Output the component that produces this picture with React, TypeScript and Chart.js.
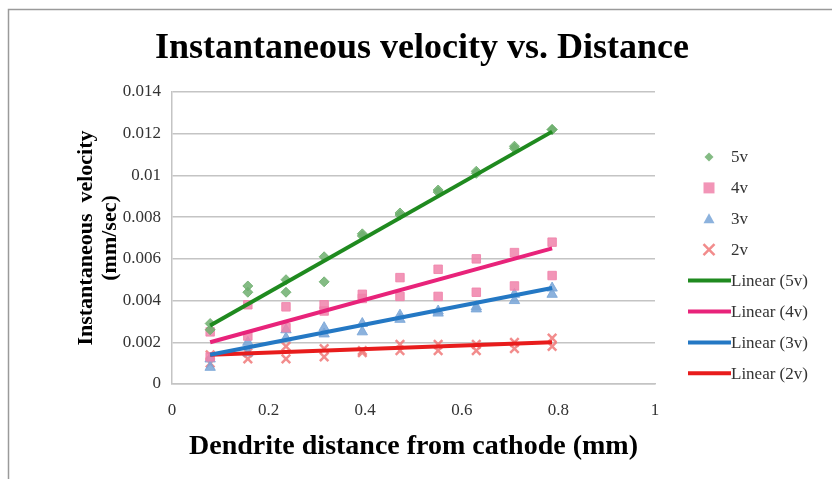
import React, { useEffect, useRef } from "react";
import { Chart, registerables } from "chart.js";

Chart.register(...registerables);

// ---- data ----
const distances = [0.079, 0.157, 0.236, 0.315, 0.394, 0.472, 0.551, 0.63, 0.709, 0.787];

const v5a = [0.0029, 0.0047, 0.005, 0.0061, 0.0072, 0.0082, 0.0093, 0.0102, 0.0114, 0.0122];
const v5b = [0.0026, 0.0044, 0.0044, 0.0049, 0.0071, 0.0081, 0.0092, 0.0101, 0.0113, 0.0122];
const v4a = [0.0025, 0.0038, 0.0037, 0.0038, 0.0043, 0.0051, 0.0055, 0.006, 0.0063, 0.0068];
const v4b = [0.0013, 0.0023, 0.0027, 0.0035, 0.0041, 0.0042, 0.0042, 0.0044, 0.0047, 0.0052];
const v3a = [0.0012, 0.002, 0.0026, 0.0027, 0.0029, 0.0033, 0.0035, 0.0037, 0.0043, 0.0046];
const v3b = [0.0008, 0.0015, 0.0022, 0.0024, 0.0025, 0.0031, 0.0034, 0.0036, 0.004, 0.0043];
const v2a = [0.0014, 0.0015, 0.0018, 0.0017, 0.0016, 0.0019, 0.0019, 0.0019, 0.002, 0.0022];
const v2b = [0.001, 0.0012, 0.0012, 0.0013, 0.0015, 0.0016, 0.0016, 0.0016, 0.0017, 0.0018];

const trendX = [0.079, 0.787];
const trend5 = [0.0028, 0.0121];
const trend4 = [0.002, 0.0065];
const trend3 = [0.0014, 0.0046];
const trend2 = [0.0014, 0.002];

const seriesNames = ["5v", "4v", "3v", "2v"];
const trendNames = ["Linear (5v)", "Linear (4v)", "Linear (3v)", "Linear (2v)"];

const TITLE = "Instantaneous velocity vs. Distance";
const X_TITLE = "Dendrite distance from cathode (mm)";
const Y_TITLE = ["Instantaneous  velocity", "(mm/sec)"];

const SERIF = '"Liberation Serif", "Times New Roman", serif';

const pointColors = ["rgba(110,175,110,0.85)", "rgba(240,130,170,0.85)", "rgba(120,165,215,0.85)", "rgba(240,120,120,0.85)"];
const pointStyles = ["rectRot", "rect", "triangle", "crossRot"];
const lineColors = ["#1f8a1f", "#e8237a", "#2478c4", "#e81c1c"];

const toPts = (xs: number[], ys: number[]) => xs.map((x, i) => ({ x, y: ys[i] }));

export default function App() {
  const ref = useRef<HTMLCanvasElement>(null);

  useEffect(() => {
    if (!ref.current) return;
    const pointSets = [
      [v5a, v5b],
      [v4a, v4b],
      [v3a, v3b],
      [v2a, v2b],
    ];
    const trends = [trend5, trend4, trend3, trend2];
    const radii = [5, 6, 6, 6];

    const datasets: any[] = [];
    pointSets.forEach((pair, i) => {
      datasets.push({
        type: "scatter",
        label: seriesNames[i],
        data: [...toPts(distances, pair[0]), ...toPts(distances, pair[1])],
        pointStyle: pointStyles[i],
        pointRadius: radii[i],
        backgroundColor: pointColors[i],
        borderColor: pointColors[i],
        borderWidth: i === 3 ? 2.5 : 1,
        showLine: false,
        order: 2 + i,
      });
    });
    trends.forEach((t, i) => {
      datasets.push({
        type: "line",
        label: trendNames[i],
        data: toPts(trendX, t),
        borderColor: lineColors[i],
        borderWidth: 4,
        pointRadius: 0,
        showLine: true,
        fill: false,
        order: 0,
      });
    });

    function drawMarker(ctx: CanvasRenderingContext2D, style: string, x: number, y: number, r: number, color: string, bw: number) {
      ctx.save();
      ctx.fillStyle = color;
      ctx.strokeStyle = color;
      ctx.lineWidth = bw;
      ctx.beginPath();
      if (style === "rectRot") {
        ctx.moveTo(x, y - r);
        ctx.lineTo(x + r, y);
        ctx.lineTo(x, y + r);
        ctx.lineTo(x - r, y);
        ctx.closePath();
        ctx.fill();
      } else if (style === "rect") {
        ctx.rect(x - r, y - r, 2 * r, 2 * r);
        ctx.fill();
      } else if (style === "triangle") {
        ctx.moveTo(x, y - r);
        ctx.lineTo(x + r, y + r * 0.8);
        ctx.lineTo(x - r, y + r * 0.8);
        ctx.closePath();
        ctx.fill();
      } else {
        ctx.moveTo(x - r, y - r);
        ctx.lineTo(x + r, y + r);
        ctx.moveTo(x + r, y - r);
        ctx.lineTo(x - r, y + r);
        ctx.stroke();
      }
      ctx.restore();
    }

    const framePlugin = {
      id: "frame",
      beforeDraw(chart: any) {
        const ctx = chart.ctx;
        ctx.save();
        ctx.fillStyle = "#ffffff";
        ctx.fillRect(0, 0, chart.width, chart.height);
        ctx.strokeStyle = "#9a9a9a";
        ctx.lineWidth = 1.5;
        ctx.beginPath();
        ctx.moveTo(8.5, 480);
        ctx.lineTo(8.5, 9.5);
        ctx.lineTo(840, 9.5);
        ctx.stroke();
        ctx.fillStyle = "#000";
        ctx.font = `bold 36px ${SERIF}`;
        ctx.textAlign = "center";
        ctx.textBaseline = "middle";
        ctx.fillText(TITLE, 422, 49);
        ctx.restore();
      },
    };

    const legendPlugin = {
      id: "customLegend",
      afterDraw(chart: any) {
        const ctx = chart.ctx;
        ctx.save();
        ctx.font = `17px ${SERIF}`;
        ctx.textBaseline = "middle";
        ctx.textAlign = "left";
        const y0 = 157;
        const step = 30.9;
        for (let i = 0; i < 4; i++) {
          const y = y0 + i * step;
          drawMarker(ctx, pointStyles[i], 709, y, i === 0 ? 4.5 : 5.5, pointColors[i], i === 3 ? 2.5 : 1);
          ctx.fillStyle = "#333";
          ctx.fillText(seriesNames[i], 731, y + 1);
        }
        for (let i = 0; i < 4; i++) {
          const y = y0 + (i + 4) * step;
          ctx.strokeStyle = lineColors[i];
          ctx.lineWidth = 4;
          ctx.beginPath();
          ctx.moveTo(688, y);
          ctx.lineTo(731, y);
          ctx.stroke();
          ctx.fillStyle = "#333";
          ctx.fillText(trendNames[i], 731, y + 1);
        }
        ctx.restore();
      },
    };

    const chart = new Chart(ref.current, {
      type: "scatter",
      data: { datasets },
      options: {
        responsive: false,
        animation: false,
        events: [],
        layout: { padding: { top: 92, left: 68, right: 177, bottom: 0 } },
        plugins: {
          legend: { display: false },
          title: { display: false },
          tooltip: { enabled: false },
        },
        scales: {
          x: {
            type: "linear",
            min: 0,
            max: 1,
            ticks: {
              stepSize: 0.2,
              padding: 16,
              color: "#333",
              font: { family: SERIF, size: 17 },
              callback: (v: any) => String(Number(Number(v).toFixed(1))),
            },
            grid: { display: false, drawTicks: false },
            border: { display: true, color: "#c4c4c4", width: 1.5 },
            title: {
              display: true,
              text: X_TITLE,
              color: "#000",
              font: { family: SERIF, size: 28, weight: "bold" },
              padding: { top: 0, bottom: 15 },
            },
            afterFit: (s: any) => {
              s.height = 95;
            },
          },
          y: {
            type: "linear",
            min: 0,
            max: 0.014,
            ticks: {
              stepSize: 0.002,
              padding: 11,
              color: "#333",
              font: { family: SERIF, size: 17 },
              callback: (v: any) => String(Number(Number(v).toFixed(3))),
            },
            grid: { color: "#c4c4c4", lineWidth: 1.5, drawTicks: false },
            border: { display: true, color: "#c4c4c4", width: 1.5 },
            title: {
              display: true,
              text: Y_TITLE,
              color: "#000",
              font: { family: SERIF, size: 22, weight: "bold", lineHeight: 1.1 },
              padding: { top: 6, bottom: 0 },
            },
            afterFit: (s: any) => {
              s.width = 104;
            },
          },
        },
      },
      plugins: [framePlugin, legendPlugin],
    } as any);

    return () => chart.destroy();
  }, []);

  return (
    <div style={{ position: "fixed", left: 0, top: 0, width: 832, height: 479, background: "#fff" }}>
      <canvas ref={ref} width={832} height={479} style={{ display: "block", width: 832, height: 479 }} />
    </div>
  );
}
